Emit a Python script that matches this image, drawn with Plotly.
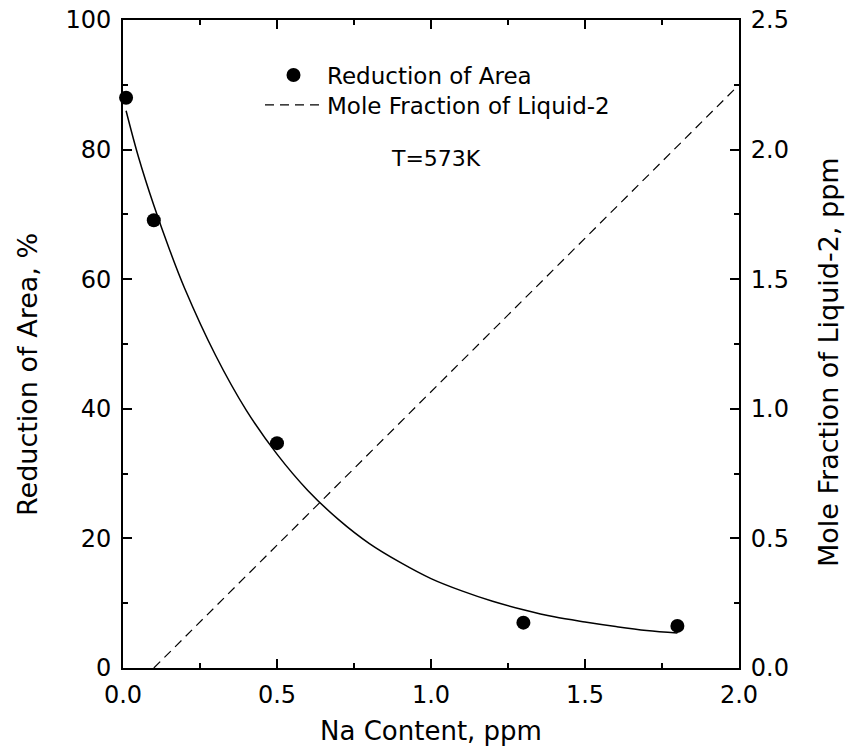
import plotly.graph_objects as go

# Measured data: Reduction of Area (%) vs Na content (ppm)
na_points = [0.01, 0.1, 0.5, 1.3, 1.8]
ra_points = [88.0, 69.1, 34.7, 7.0, 6.5]

# Fitted curve
fit_x = [0.01, 0.05, 0.1, 0.15, 0.2, 0.3, 0.4, 0.5, 0.6, 0.7, 0.8,
         0.9, 1.0, 1.1, 1.2, 1.3, 1.4, 1.5, 1.6, 1.7, 1.8]
fit_y = [86.0, 78.9, 71.4, 64.7, 58.6, 48.3, 39.8, 33.0, 27.4, 22.9, 19.2,
         16.3, 13.8, 11.9, 10.3, 9.0, 7.9, 7.1, 6.4, 5.8, 5.4]

# Mole fraction of Liquid-2 (right axis)
mole_x = [0.1, 2.0]
mole_y = [0.0, 2.25]

x_ticks = [0.0, 0.5, 1.0, 1.5, 2.0]
x_tick_text = ["0.0", "0.5", "1.0", "1.5", "2.0"]
y_ticks = [0, 20, 40, 60, 80, 100]
y2_ticks = [0.0, 0.5, 1.0, 1.5, 2.0, 2.5]
y2_tick_text = ["0.0", "0.5", "1.0", "1.5", "2.0", "2.5"]

FONT = "DejaVu Sans, Liberation Sans, Arial, sans-serif"

fig = go.Figure()

fig.add_trace(go.Scatter(
    x=na_points, y=ra_points, mode="markers", name="Reduction of Area",
    marker=dict(color="black", size=14, symbol="circle"),
    cliponaxis=False, legend="legend",
))
fig.add_trace(go.Scatter(
    x=fit_x, y=fit_y, mode="lines", showlegend=False,
    line=dict(color="black", width=1.5, shape="spline"),
))
fig.add_trace(go.Scatter(
    x=mole_x, y=mole_y, mode="lines", name="Mole Fraction of Liquid-2",
    yaxis="y2", line=dict(color="black", width=1.2, dash="9px,6px"),
    legend="legend2",
))

fig.add_annotation(
    text="T=573K", xref="paper", yref="paper", x=0.508, y=0.809,
    showarrow=False, font=dict(family=FONT, size=22, color="black"),
)
# vertical axis titles
fig.add_annotation(
    text="Reduction of Area, %", xref="paper", yref="paper",
    x=(27 - 123) / 616, y=(668 - 375) / 648, textangle=-90,
    xanchor="center", yanchor="middle", showarrow=False,
    font=dict(family=FONT, size=27, color="black"),
)
fig.add_annotation(
    text="Mole Fraction of Liquid-2, ppm", xref="paper", yref="paper",
    x=(828 - 123) / 616, y=(668 - 362) / 648, textangle=-90,
    xanchor="center", yanchor="middle", showarrow=False,
    font=dict(family=FONT, size=27, color="black"),
)

axis_common = dict(
    showline=True, linecolor="black", linewidth=2, ticks="inside",
    ticklen=9, tickwidth=2, tickcolor="black", showgrid=False, zeroline=False,
    tickfont=dict(family=FONT, size=24, color="black"), automargin=False,
    ticklabeloverflow="allow",
)

legend_common = dict(
    xanchor="left", yanchor="middle", bgcolor="rgba(0,0,0,0)", borderwidth=0,
    font=dict(family=FONT, size=23, color="black"), itemwidth=57,
)

fig.update_layout(
    width=846, height=750,
    margin=dict(l=123, r=107, t=20, b=82, autoexpand=False),
    paper_bgcolor="white", plot_bgcolor="white",
    font=dict(family=FONT, color="black"),
    showlegend=True,
    legend=dict(**legend_common, x=0.2224, y=(668 - 75) / 648),
    legend2=dict(**legend_common, x=0.2224, y=(668 - 105) / 648),
    xaxis=dict(
        **axis_common, range=[0, 2.0], tickvals=x_ticks, ticktext=x_tick_text,
        mirror="ticks", ticklabelstandoff=4,
        minor=dict(ticks="inside", ticklen=5, tickwidth=2, tickcolor="black", dtick=0.25),
        title=dict(text="Na Content, ppm", font=dict(family=FONT, size=26, color="black"), standoff=14),
    ),
    yaxis=dict(
        **axis_common, range=[0, 100], tickvals=y_ticks, ticklabelstandoff=5,
        minor=dict(ticks="inside", ticklen=5, tickwidth=2, tickcolor="black", dtick=10),
    ),
    yaxis2=dict(
        **axis_common, range=[0, 2.5], tickvals=y2_ticks, ticktext=y2_tick_text,
        overlaying="y", side="right", ticklabelstandoff=5,
        minor=dict(ticks="inside", ticklen=5, tickwidth=2, tickcolor="black", dtick=0.25),
    ),
)

# remove the page's default 8px body margin so the figure fills the window
fig.write_html(
    "out.html",
    config={"displayModeBar": False},
    post_script="document.body.style.margin='0';",
)
